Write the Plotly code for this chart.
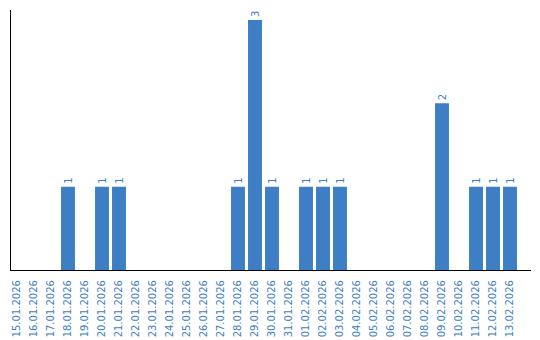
import plotly.graph_objects as go

dates = ["15.01.2026", "16.01.2026", "17.01.2026", "18.01.2026", "19.01.2026",
         "20.01.2026", "21.01.2026", "22.01.2026", "23.01.2026", "24.01.2026",
         "25.01.2026", "26.01.2026", "27.01.2026", "28.01.2026", "29.01.2026",
         "30.01.2026", "31.01.2026", "01.02.2026", "02.02.2026", "03.02.2026",
         "04.02.2026", "05.02.2026", "06.02.2026", "07.02.2026", "08.02.2026",
         "09.02.2026", "10.02.2026", "11.02.2026", "12.02.2026", "13.02.2026"]
counts = [0, 0, 0, 1, 0,
          1, 1, 0, 0, 0,
          0, 0, 0, 1, 3,
          1, 0, 1, 1, 1,
          0, 0, 0, 0, 0,
          2, 0, 1, 1, 1]

bar_color = "#3d7ec4"
text_color = "#3d7ec4"
labels = [str(v) if v > 0 else "" for v in counts]

fig = go.Figure(go.Bar(
    x=dates, y=counts, marker_color=bar_color, marker_line_width=0,
    text=labels, textposition="outside", textangle=-90,
    textfont=dict(color=text_color, size=10, family="DejaVu Sans"),
    cliponaxis=False,
))

fig.update_layout(
    width=540, height=340,
    margin=dict(l=11, r=9, t=10, b=70, autoexpand=False),
    plot_bgcolor="white", paper_bgcolor="white",
    bargap=0.18, showlegend=False,
    uniformtext=dict(minsize=8, mode="show"),
)
fig.update_xaxes(
    type="category", range=[-0.353, 30.235], automargin=False,
    showline=True, linecolor="black", linewidth=1.2,
    ticks="", tickangle=-90, ticklabelstandoff=5,
    tickfont=dict(color=text_color, size=10, family="DejaVu Sans"),
    showgrid=False, zeroline=False,
)
fig.update_yaxes(
    range=[0, 3.12], showline=True, linecolor="black", linewidth=1.2,
    showticklabels=False, ticks="", showgrid=False, zeroline=False,
)

fig.write_html("out.html")
